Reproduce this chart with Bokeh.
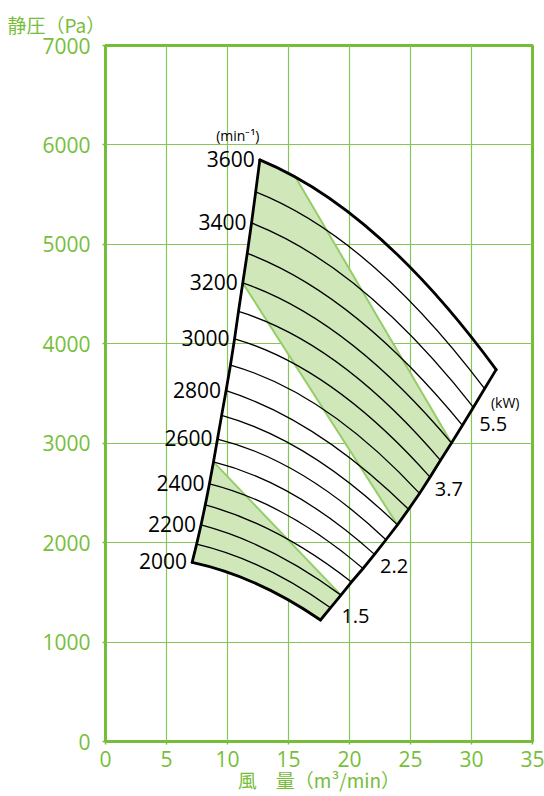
import numpy as np
from bokeh.plotting import figure
from bokeh.models import Range1d, Label, FixedTicker, ColumnDataSource, Title
from bokeh.core.properties import value
from bokeh.embed import file_html
from bokeh.resources import INLINE

# ---- data ----
speeds = [2000, 2100, 2200, 2300, 2400, 2500, 2600, 2700, 2800,
          2900, 3000, 3100, 3200, 3300, 3400, 3500, 3600]
# start of each fan curve (on the left boundary)
left_q = [7.10, 7.47, 7.83, 8.18, 8.52, 8.85, 9.18, 9.52, 9.88,
          10.24, 10.58, 10.90, 11.25, 11.62, 11.97, 12.31, 12.65]
left_p = [1801, 1985, 2178, 2380, 2592, 2812, 3042, 3280, 3528,
          3785, 4050, 4325, 4612, 4910, 5215, 5528, 5850]
# one interior point on each curve
mid_q = [15, 15, 15, 15, 15, 15, 15, 15, 15,
         20, 20, 20, 20, 20, 20, 20, 20]
mid_p = [1423, 1615, 1815, 2030, 2270, 2510, 2760, 3004, 3257,
         3150, 3430, 3720, 4010, 4315, 4640, 4975, 5316]
# end of each fan curve (on the right boundary)
right_q = [17.62, 18.44, 19.30, 20.16, 21.11, 22.05, 22.99, 23.93, 24.84,
           25.74, 26.60, 27.46, 28.36, 29.26, 30.16, 31.07, 32.02]
right_p = [1222, 1345, 1472, 1604, 1740, 1882, 2029, 2179, 2335,
           2495, 2659, 2828, 3002, 3180, 3361, 3548, 3740]

labelled_speeds = [2000, 2200, 2400, 2600, 2800, 3000, 3200, 3400, 3600]

# shaded zones: speed indices of their corners, and where zone 1 meets the top curve
band1_top_q = 15.57
band1_left_from, band1_left_to = 16, 12     # 3600 .. 3200 on the left boundary
band1_right_from, band1_right_to = 7, 12    # 2700 .. 3200 on the right boundary
band2_left_from, band2_left_to = 5, 0       # 2500 .. 2000 on the left boundary
band2_right_to = 2                          # 2000 .. 2200 on the right boundary

kw_labels = ["1.5", "2.2", "3.7", "5.5"]
kw_label_q = [20.49, 23.65, 28.14, 31.78]
kw_label_p = [1265, 1768, 2544, 3191]

x_ticks = [0, 5, 10, 15, 20, 25, 30, 35]
y_ticks = [0, 1000, 2000, 3000, 4000, 5000, 6000, 7000]

y_title = "静圧（Pa）"
x_title = "風　量（m³/min）"

# ---- styles ----
GREEN = "#76be3a"
GRID = "#86c659"
FILL = "#cfe7b9"
EDGE = "#95cd68"
FONT = "Open Sans"
JFONT = "Noto Sans CJK JP"

p = figure(width=544, height=796, x_range=Range1d(0, 35), y_range=Range1d(0, 7000),
           output_backend="svg", toolbar_location=None,
           min_border_left=105, min_border_right=12, min_border_top=44, min_border_bottom=55)
p.background_fill_color = "white"
p.border_fill_color = "white"
p.outline_line_color = GREEN
p.outline_line_width = 3

p.add_layout(Title(text=y_title, align="left", offset=-98, standoff=16,
                   text_font=JFONT, text_font_size="19px", text_font_style="normal",
                   text_color=GREEN), "above")

p.xaxis.ticker = FixedTicker(ticks=x_ticks)
p.yaxis.ticker = FixedTicker(ticks=y_ticks)
p.xgrid.ticker = FixedTicker(ticks=x_ticks)
p.ygrid.ticker = FixedTicker(ticks=y_ticks)
for g in (p.xgrid, p.ygrid):
    g.grid_line_color = GRID
    g.grid_line_width = 1.2
for ax in (p.xaxis, p.yaxis):
    ax.axis_line_color = None
    ax.major_tick_line_color = GREEN
    ax.major_tick_line_width = 1.5
    ax.major_tick_out = 3
    ax.major_tick_in = 0
    ax.minor_tick_line_color = None
    ax.major_label_text_color = GREEN
    ax.major_label_text_font = FONT
    ax.major_label_text_font_size = "21px"
p.yaxis.major_label_standoff = 12
p.xaxis.major_label_standoff = 6
p.xaxis.axis_label = x_title
p.xaxis.axis_label_text_font = JFONT
p.xaxis.axis_label_text_font_size = "19px"
p.xaxis.axis_label_text_font_style = "normal"
p.xaxis.axis_label_text_color = GREEN
p.xaxis.axis_label_standoff = -4


def coeffs(i):
    return np.polyfit([left_q[i], mid_q[i], right_q[i]],
                      [left_p[i], mid_p[i], right_p[i]], 2)


def curve_y(i, q):
    return np.polyval(coeffs(i), q)


# quadratic Bezier control points reproducing the curve through the three read points
cxs, cys = [], []
for i in range(len(speeds)):
    c = coeffs(i)
    slope0 = 2 * c[0] * left_q[i] + c[1]
    cxs.append((left_q[i] + right_q[i]) / 2)
    cys.append(left_p[i] + slope0 * (right_q[i] - left_q[i]) / 2)

# ---- shaded zones ----
top = len(speeds) - 1
tq = list(np.linspace(band1_top_q, left_q[top], 8))
b1x = tq + left_q[band1_left_to:band1_left_from][::-1][1:]
b1y = list(curve_y(top, np.array(tq))) + left_p[band1_left_to:band1_left_from][::-1][1:]
b1x += right_q[band1_right_from:band1_right_to + 1]
b1y += right_p[band1_right_from:band1_right_to + 1]

bq = list(np.linspace(left_q[0], right_q[0], 12))
b2x = left_q[band2_left_to:band2_left_from + 1][::-1] + bq[1:] + right_q[1:band2_right_to + 1]
b2y = left_p[band2_left_to:band2_left_from + 1][::-1] + list(curve_y(0, np.array(bq)))[1:] + right_p[1:band2_right_to + 1]

p.patches(xs=[b1x, b2x], ys=[b1y, b2y], fill_color=FILL, line_color=None)

# zone edges
p.segment(x0=[band1_top_q, left_q[band1_right_to], left_q[band2_left_from]],
          y0=[float(curve_y(top, band1_top_q)), left_p[band1_right_to], left_p[band2_left_from]],
          x1=[right_q[band1_right_to], right_q[band1_right_from], right_q[band2_right_to]],
          y1=[right_p[band1_right_to], right_p[band1_right_from], right_p[band2_right_to]],
          line_color=EDGE, line_width=2)

# ---- fan curves ----
inner = list(range(1, len(speeds) - 1))
p.quadratic(x0=[left_q[i] for i in inner], y0=[left_p[i] for i in inner],
            x1=[right_q[i] for i in inner], y1=[right_p[i] for i in inner],
            cx=[cxs[i] for i in inner], cy=[cys[i] for i in inner],
            line_color="black", line_width=1.3)
outer = [0, top]
p.quadratic(x0=[left_q[i] for i in outer], y0=[left_p[i] for i in outer],
            x1=[right_q[i] for i in outer], y1=[right_p[i] for i in outer],
            cx=[cxs[i] for i in outer], cy=[cys[i] for i in outer],
            line_color="black", line_width=2.8, line_cap="round")
p.line(left_q, left_p, line_color="black", line_width=2.8, line_cap="round", line_join="round")
p.line(right_q, right_p, line_color="black", line_width=2.8, line_cap="round", line_join="round")

# ---- labels ----
idx = [speeds.index(s) for s in labelled_speeds]
src = ColumnDataSource(dict(x=[left_q[i] for i in idx], y=[left_p[i] for i in idx],
                            t=[str(s) for s in labelled_speeds]))
p.text(x="x", y="y", text="t", source=src, text_align="right", text_baseline="middle",
       x_offset=-5, y_offset=-1, text_font=value(FONT), text_font_size="21px", text_color="black")
p.text(x=kw_label_q, y=kw_label_p, text=kw_labels, text_align="center", text_baseline="middle",
       text_font=value(FONT), text_font_size="20px", text_color="black")

p.add_layout(Label(x=left_q[top], y=left_p[top], text="(min\u207b\u00b9)", x_offset=-22, y_offset=24,
                   text_align="center", text_baseline="middle", text_font=FONT,
                   text_font_size="14px", text_color="black"))
p.add_layout(Label(x=kw_label_q[-1], y=kw_label_p[-1], text="(kW)", x_offset=12, y_offset=22,
                   text_align="center", text_baseline="middle", text_font=FONT,
                   text_font_size="14px", text_color="black"))

open("out.html", "w").write(file_html(p, INLINE))
